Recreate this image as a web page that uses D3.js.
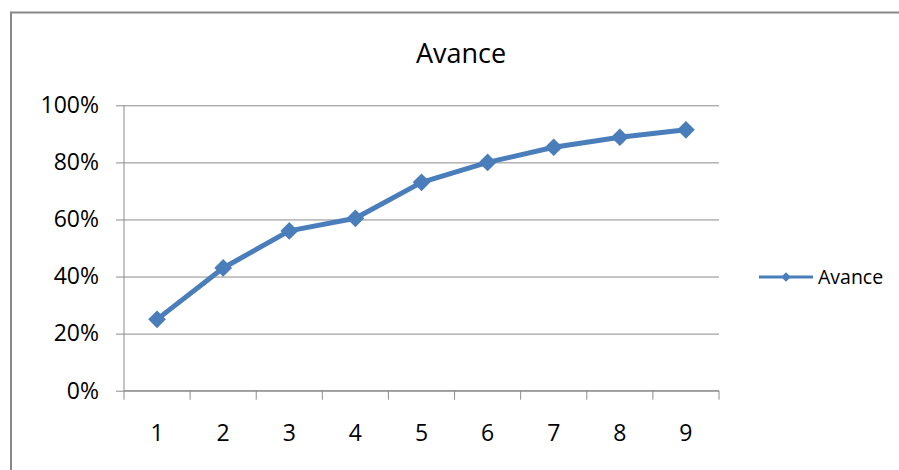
<!DOCTYPE html>
<html>
<head>
<meta charset="utf-8">
<script src="https://cdn.jsdelivr.net/npm/d3@7"></script>
<style>
  html, body { margin: 0; padding: 0; background: #fff; }
  svg { display: block; font-family: "Open Sans", "Noto Sans", sans-serif; }
</style>
</head>
<body>
<svg id="chart" width="899" height="470"></svg>
<script>
// Progress per step
const categories = ["1", "2", "3", "4", "5", "6", "7", "8", "9"];
const avance = [0.25, 0.43, 0.56, 0.604, 0.73, 0.80, 0.853, 0.888, 0.914];
const yTicks = [0, 0.2, 0.4, 0.6, 0.8, 1.0];
const seriesName = "Avance";
const chartTitle = "Avance";

const blue = "#4a7ebb";
const gridColor = "#8c8c8c";

const svg = d3.select("#chart");

// Chart frame (extends past the right and bottom edges)
svg.append("rect")
  .attr("x", 11).attr("y", 12.5)
  .attr("width", 900).attr("height", 480)
  .attr("fill", "#fff")
  .attr("stroke", "#878787")
  .attr("stroke-width", 2);

const plot = { left: 124, right: 719, top: 105.3, bottom: 390.7 };

const x = d3.scaleBand().domain(categories).range([plot.left, plot.right]);
const y = d3.scaleLinear().domain([0, 1]).range([plot.bottom, plot.top]);

// Title
svg.append("text")
  .attr("x", 461).attr("y", 63)
  .attr("text-anchor", "middle")
  .attr("font-size", 27)
  .attr("fill", "#000")
  .text(chartTitle);

// Horizontal gridlines
svg.append("g")
  .attr("transform", `translate(${plot.left},0)`)
  .call(d3.axisLeft(y).tickValues(yTicks).tickSize(-(plot.right - plot.left)).tickFormat(""))
  .call(g => g.select(".domain").remove())
  .call(g => g.selectAll("line").attr("stroke", gridColor).attr("stroke-width", 1));

// Y axis with percent labels
svg.append("g")
  .attr("transform", `translate(${plot.left},0)`)
  .call(d3.axisLeft(y).tickValues(yTicks).tickSize(8).tickPadding(17).tickFormat(d3.format(".0%")))
  .call(g => g.select(".domain").attr("stroke", gridColor).attr("d", `M0,${plot.top}V${plot.bottom}`))
  .call(g => g.selectAll("line").attr("stroke", gridColor))
  .call(g => g.selectAll("text").attr("font-size", 23).attr("fill", "#000")
    .attr("font-family", "'Open Sans', sans-serif"));

// X axis: baseline, tick marks between categories, labels centred in bands
const xAxis = svg.append("g");
xAxis.append("line")
  .attr("x1", plot.left).attr("x2", plot.right)
  .attr("y1", y(0)).attr("y2", y(0))
  .attr("stroke", gridColor);
const boundaries = categories.map(c => x(c)).concat([x.range()[1]]);
xAxis.selectAll("line.tick")
  .data(boundaries)
  .join("line")
  .attr("class", "tick")
  .attr("x1", d => d).attr("x2", d => d)
  .attr("y1", y(0)).attr("y2", y(0) + 9)
  .attr("stroke", gridColor);
xAxis.selectAll("text")
  .data(categories)
  .join("text")
  .attr("x", d => x(d) + x.bandwidth() / 2)
  .attr("y", 433)
  .attr("dy", "0.35em")
  .attr("text-anchor", "middle")
  .attr("font-size", 23)
  .attr("fill", "#000")
  .text(d => d);

// Series line
const pts = categories.map((c, i) => [x(c) + x.bandwidth() / 2, y(avance[i])]);
svg.append("path")
  .attr("d", d3.line()(pts))
  .attr("fill", "none")
  .attr("stroke", blue)
  .attr("stroke-width", 5)
  .attr("stroke-linejoin", "round");

// Diamond markers
const diamond = d3.symbol().type(d3.symbolDiamond2).size(200);
svg.append("g")
  .selectAll("path")
  .data(pts)
  .join("path")
  .attr("transform", d => `translate(${d[0]},${d[1]})`)
  .attr("d", diamond)
  .attr("fill", blue);

// Legend
const legend = svg.append("g").attr("transform", "translate(759,277)");
legend.append("line")
  .attr("x1", 0).attr("x2", 54)
  .attr("stroke", blue).attr("stroke-width", 3);
legend.append("path")
  .attr("transform", "translate(27,0)")
  .attr("d", d3.symbol().type(d3.symbolDiamond2).size(60))
  .attr("fill", blue);
legend.append("text")
  .attr("x", 59).attr("y", 0)
  .attr("dy", "0.35em")
  .attr("font-size", 19.5)
  .attr("fill", "#000")
  .text(seriesName);
</script>
</body>
</html>
